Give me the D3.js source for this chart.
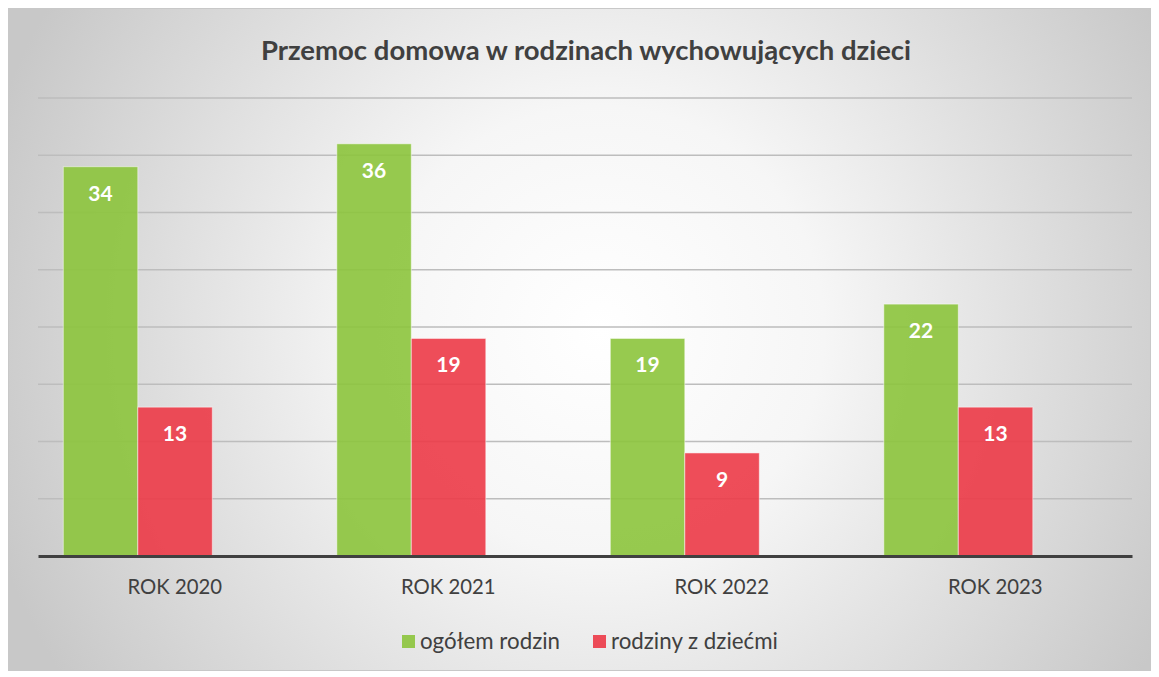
<!DOCTYPE html>
<html>
<head>
<meta charset="utf-8">
<script src="https://cdn.jsdelivr.net/npm/d3@7"></script>
<style>
  body { margin: 0; background: #fff; }
  svg { display: block; }
</style>
</head>
<body>
<div id="chart"></div>
<script>
// data
var lata = ["ROK 2020", "ROK 2021", "ROK 2022", "ROK 2023"];
var ogolem = [34, 36, 19, 22];
var zDziecmi = [13, 19, 9, 13];
var serie = ["ogółem rodzin", "rodziny z dziećmi"];
var kolory = ["#8cc43c", "#ec3a47"];
var gridTicks = [5, 10, 15, 20, 25, 30, 35, 40];

var W = 1159, H = 677;
var margin = {top: 98, right: 27, bottom: 121, left: 38};
var width = W - margin.left - margin.right,
    height = H - margin.top - margin.bottom;

var svg = d3.select("#chart").append("svg")
  .attr("width", W)
  .attr("height", H);

// background gradient
var defs = svg.append("defs");
var grad = defs.append("radialGradient")
  .attr("id", "bg")
  .attr("gradientUnits", "userSpaceOnUse")
  .attr("cx", 600).attr("cy", 330).attr("r", 640);
grad.append("stop").attr("offset", "0%").attr("stop-color", "#ffffff");
grad.append("stop").attr("offset", "35%").attr("stop-color", "#f6f6f6");
grad.append("stop").attr("offset", "100%").attr("stop-color", "#c8c8c8");

svg.append("rect")
  .attr("x", 8.5).attr("y", 8.5)
  .attr("width", W - 17).attr("height", H - 15)
  .attr("fill", "url(#bg)")
  .attr("stroke", "#c8c8c8")
  .attr("stroke-width", 1);

// title
svg.append("text")
  .attr("x", 586)
  .attr("y", 60)
  .attr("text-anchor", "middle")
  .attr("font-family", "Lato, 'Open Sans', sans-serif")
  .attr("font-weight", "bold")
  .attr("font-size", 27.5)
  .attr("fill", "#404040")
  .text("Przemoc domowa w rodzinach wychowujących dzieci");

var g = svg.append("g")
  .attr("transform", "translate(" + margin.left + "," + margin.top + ")");

var x = d3.scaleBand()
  .domain(lata)
  .range([0, width]);

var y = d3.scaleLinear()
  .domain([0, 40])
  .range([height, 0]);

// inner scale for the two bars inside each category
var xs = d3.scaleBand()
  .domain(serie)
  .range([25.3, 174.3]);

// gridlines
g.selectAll(".grid")
  .data(gridTicks)
  .enter().append("line")
  .attr("x1", 0).attr("x2", width)
  .attr("y1", function(d){ return y(d); })
  .attr("y2", function(d){ return y(d); })
  .attr("stroke", "#bdbdbd")
  .attr("stroke-width", 1.5);

var rows = lata.map(function(l, i){ return [ogolem[i], zDziecmi[i]]; });

var grupa = g.selectAll(".grupa")
  .data(lata)
  .enter().append("g")
  .attr("transform", function(d){ return "translate(" + x(d) + ",0)"; });

grupa.each(function(l, i){
  var gg = d3.select(this);
  rows[i].forEach(function(v, j){
    gg.append("rect")
      .attr("x", xs(serie[j]))
      .attr("y", y(v))
      .attr("width", xs.bandwidth())
      .attr("height", height - y(v))
      .attr("fill", kolory[j])
      .attr("fill-opacity", 0.9)
      .attr("stroke", "#ffffff")
      .attr("stroke-opacity", 0.5)
      .attr("stroke-width", 1);
    gg.append("text")
      .attr("x", xs(serie[j]) + xs.bandwidth() / 2)
      .attr("y", y(v) + 34)
      .attr("text-anchor", "middle")
      .attr("font-family", "Lato, 'Open Sans', sans-serif")
      .attr("font-weight", "bold")
      .attr("font-size", 21)
      .attr("fill", "#ffffff")
      .text(v);
  });
});

// baseline + x axis
var xAxis = g.append("g")
  .attr("transform", "translate(0," + height + ")")
  .call(d3.axisBottom(x).tickSize(0).tickPadding(24));
xAxis.select(".domain")
  .attr("stroke", "#404040")
  .attr("stroke-width", 3);
xAxis.selectAll("text")
  .attr("font-family", "Lato, 'Open Sans', sans-serif")
  .attr("font-size", 20.3)
  .attr("fill", "#404040");

// legend
var legX = [402, 593];
var leg = svg.selectAll(".leg")
  .data(serie)
  .enter().append("g")
  .attr("transform", function(d, i){ return "translate(" + legX[i] + ",635)"; });
leg.append("rect")
  .attr("width", 13).attr("height", 13)
  .attr("fill", function(d, i){ return kolory[i]; })
  .attr("fill-opacity", 0.9);
leg.append("text")
  .attr("x", 18)
  .attr("y", 14)
  .attr("font-family", "Lato, 'Open Sans', sans-serif")
  .attr("font-size", 22.3)
  .attr("fill", "#404040")
  .text(function(d){ return d; });
</script>
</body>
</html>
